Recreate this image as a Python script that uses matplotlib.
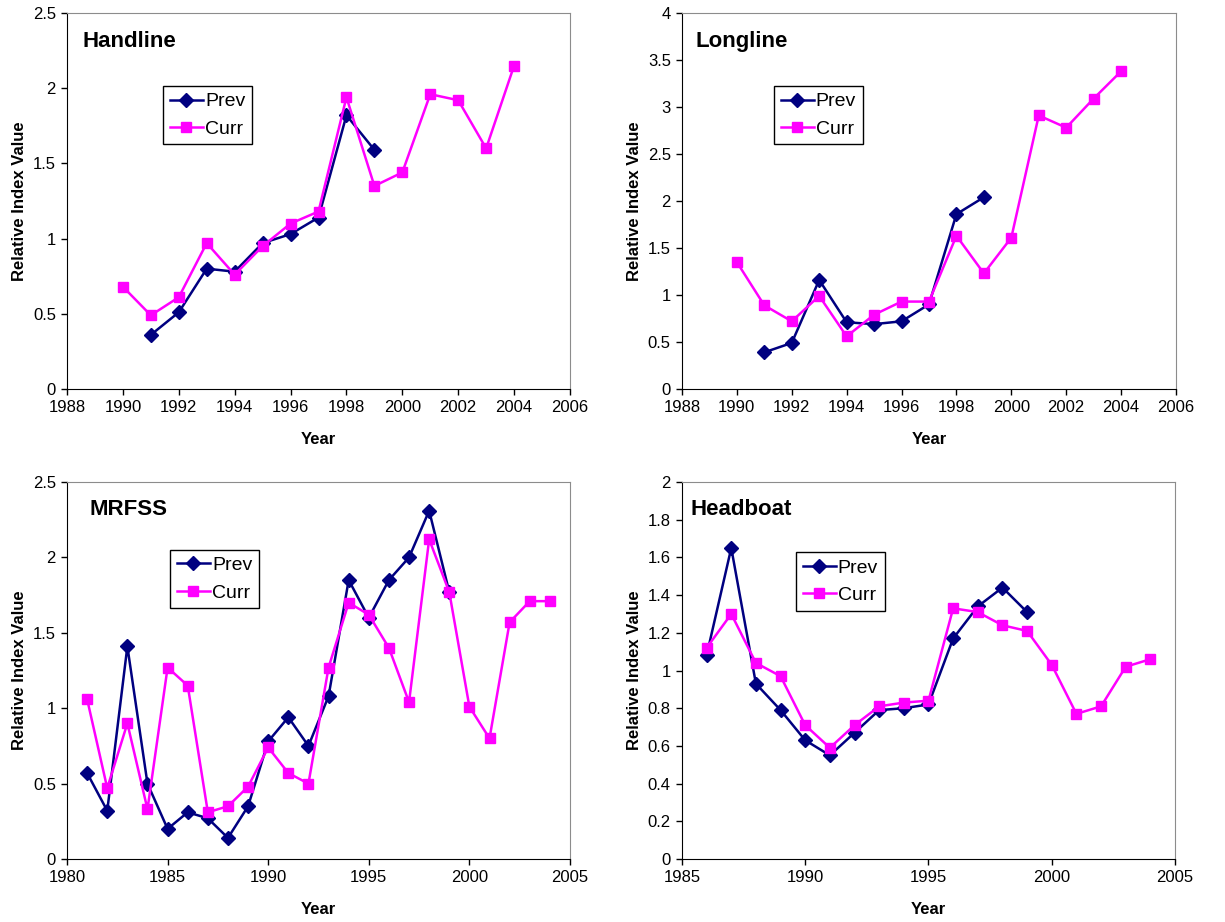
import matplotlib.pyplot as plt
from matplotlib.ticker import FormatStrFormatter, MultipleLocator

plt.rcParams['font.family'] = ['Liberation Sans', 'DejaVu Sans']

NAVY = "#000080"
MAGENTA = "#FF00FF"

# Handline
hl_prev_years = [1991, 1992, 1993, 1994, 1995, 1996, 1997, 1998, 1999]
hl_prev = [0.36, 0.51, 0.80, 0.78, 0.97, 1.03, 1.14, 1.82, 1.59]
hl_curr_years = list(range(1990, 2005))
hl_curr = [0.68, 0.49, 0.61, 0.97, 0.76, 0.95, 1.10, 1.18, 1.94, 1.35,
           1.44, 1.96, 1.92, 1.60, 2.15]

# Longline
ll_prev_years = [1991, 1992, 1993, 1994, 1995, 1996, 1997, 1998, 1999]
ll_prev = [0.39, 0.49, 1.16, 0.71, 0.69, 0.72, 0.90, 1.86, 2.04]
ll_curr_years = list(range(1990, 2005))
ll_curr = [1.35, 0.89, 0.72, 0.99, 0.56, 0.79, 0.93, 0.93, 1.63, 1.23,
           1.61, 2.91, 2.78, 3.09, 3.38]

# MRFSS
mr_prev_years = list(range(1981, 2000))
mr_prev = [0.57, 0.32, 1.41, 0.50, 0.20, 0.31, 0.27, 0.14, 0.35, 0.78,
           0.94, 0.75, 1.08, 1.85, 1.60, 1.85, 2.00, 2.31, 1.77]
mr_curr_years = list(range(1981, 2005))
mr_curr = [1.06, 0.47, 0.90, 0.33, 1.27, 1.15, 0.31, 0.35, 0.48, 0.74,
           0.57, 0.50, 1.27, 1.70, 1.62, 1.40, 1.04, 2.12, 1.77, 1.01,
           0.80, 1.57, 1.71, 1.71]

# Headboat
hb_prev_years = list(range(1986, 2000))
hb_prev = [1.08, 1.65, 0.93, 0.79, 0.63, 0.55, 0.67, 0.79, 0.80, 0.82,
           1.17, 1.34, 1.44, 1.31]
hb_curr_years = list(range(1986, 2005))
hb_curr = [1.12, 1.30, 1.04, 0.97, 0.71, 0.59, 0.71, 0.81, 0.83, 0.84,
           1.33, 1.31, 1.24, 1.21, 1.03, 0.77, 0.81, 1.02, 1.06]

panels = [
    dict(name="Handline", prev=(hl_prev_years, hl_prev), curr=(hl_curr_years, hl_curr),
         rect=[0.0547, 0.5781, 0.4106, 0.4078], xlim=(1988, 2006), xstep=2,
         ylim=(0, 2.5), ystep=0.5, title_pos=(0.030, 0.923), leg_pos=(0.191, 0.806)),
    dict(name="Longline", prev=(ll_prev_years, ll_prev), curr=(ll_curr_years, ll_curr),
         rect=[0.5567, 0.5781, 0.4033, 0.4078], xlim=(1988, 2006), xstep=2,
         ylim=(0, 4), ystep=0.5, title_pos=(0.028, 0.923), leg_pos=(0.186, 0.806)),
    dict(name="MRFSS", prev=(mr_prev_years, mr_prev), curr=(mr_curr_years, mr_curr),
         rect=[0.0547, 0.0683, 0.4106, 0.4089], xlim=(1980, 2005), xstep=5,
         ylim=(0, 2.5), ystep=0.5, title_pos=(0.044, 0.926), leg_pos=(0.205, 0.820)),
    dict(name="Headboat", prev=(hb_prev_years, hb_prev), curr=(hb_curr_years, hb_curr),
         rect=[0.5567, 0.0683, 0.4025, 0.4089], xlim=(1985, 2005), xstep=5,
         ylim=(0, 2), ystep=0.2, title_pos=(0.018, 0.928), leg_pos=(0.231, 0.814)),
]

fig = plt.figure(figsize=(12.25, 9.22), dpi=100)

for p in panels:
    ax = fig.add_axes(p["rect"])
    ax.plot(*p["prev"], color=NAVY, lw=1.8, marker="D", ms=7.5, label="Prev")
    ax.plot(*p["curr"], color=MAGENTA, lw=1.8, marker="s", ms=7.5, label="Curr")

    ax.set_xlim(*p["xlim"])
    ax.set_ylim(*p["ylim"])
    ax.xaxis.set_major_locator(MultipleLocator(p["xstep"]))
    ax.yaxis.set_major_locator(MultipleLocator(p["ystep"]))
    ax.yaxis.set_major_formatter(FormatStrFormatter("%g"))
    ax.tick_params(direction="out", length=4, width=1, labelsize=12, colors="black", pad=4)

    for side in ("top", "right"):
        ax.spines[side].set_color("#8c8c8c")
    for side in ("left", "bottom"):
        ax.spines[side].set_color("black")

    ax.set_xlabel("Year", fontsize=12, fontweight="bold", labelpad=12)
    ax.set_ylabel("Relative Index Value", fontsize=12, fontweight="bold", labelpad=4)

    ax.text(*p["title_pos"], p["name"], transform=ax.transAxes, fontsize=16,
            fontweight="bold", ha="left", va="center")

    leg = ax.legend(loc="upper left", bbox_to_anchor=p["leg_pos"], borderaxespad=0,
                    fontsize=14, fancybox=False, framealpha=1, edgecolor="black",
                    handlelength=1.7, handletextpad=0.1, borderpad=0.35, labelspacing=0.5)
    leg.get_frame().set_linewidth(1.0)

fig.savefig("out.png", dpi=100)
